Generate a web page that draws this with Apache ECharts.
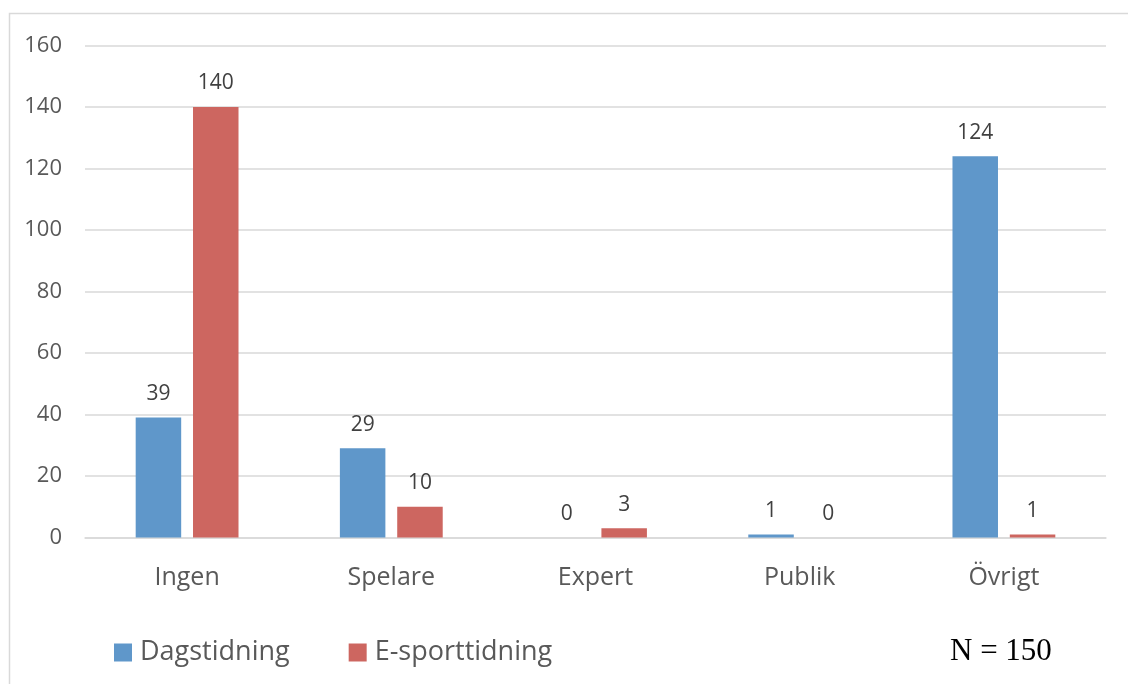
<!DOCTYPE html>
<html>
<head>
<meta charset="utf-8">
<script src="https://cdn.jsdelivr.net/npm/echarts@6/dist/echarts.min.js"></script>
<style>html,body{margin:0;padding:0;background:#fff;}#c{width:1128px;height:684px;}</style>
</head>
<body>
<div id="c"></div>
<script>
const categories = ['Ingen', 'Spelare', 'Expert', 'Publik', 'Övrigt'];
const dagstidning = [39, 29, 0, 1, 124];
const esporttidning = [140, 10, 3, 0, 1];
const seriesNames = ['Dagstidning', 'E-sporttidning'];
const yTicks = { min: 0, max: 160, interval: 20 };
const note = 'N = 150';

const chart = echarts.init(document.getElementById('c'));
const font = '"Open Sans", "Noto Sans", sans-serif';
const labelCfg = { show: true, position: 'top', distance: 13, color: '#404040', fontSize: 21, fontFamily: font };
chart.setOption({
  animation: false,
  grid: { left: 85, right: 22, top: 45.5, bottom: 146.5, containLabel: false },
  graphic: [
    { type: 'rect', left: 7, top: 11, shape: { width: 1200, height: 800 }, style: { fill: 'none', stroke: '#d9d9d9', lineWidth: 1.5 }, silent: true },
    { type: 'text', left: 950, top: 636, style: { text: note, font: '31px "Liberation Serif", "Times New Roman", serif', fill: '#000' } }
  ],
  legend: {
    left: 114, top: 639, padding: 0,
    itemWidth: 18, itemHeight: 18, itemGap: 59,
    icon: 'rect',
    textStyle: { fontSize: 27, color: '#595959', fontFamily: font, padding: [0, 0, 0, 3] },
    data: seriesNames
  },
  xAxis: {
    type: 'category', data: categories,
    axisLine: { lineStyle: { color: '#d9d9d9', width: 1.5 } },
    axisTick: { show: false },
    axisLabel: { color: '#595959', fontSize: 25, fontFamily: font, margin: 28 }
  },
  yAxis: {
    type: 'value', min: yTicks.min, max: yTicks.max, interval: yTicks.interval,
    axisLine: { show: false }, axisTick: { show: false },
    splitLine: { lineStyle: { color: '#d9d9d9', width: 1.5 } },
    axisLabel: { color: '#595959', fontSize: 22, fontFamily: font, margin: 23 }
  },
  series: [
    { name: seriesNames[0], type: 'bar', data: dagstidning, barWidth: 45.5, barGap: '26%',
      itemStyle: { color: '#5f97ca' }, label: labelCfg },
    { name: seriesNames[1], type: 'bar', data: esporttidning, barWidth: 45.5,
      itemStyle: { color: '#cd6660' }, label: labelCfg }
  ]
});
</script>
</body>
</html>
